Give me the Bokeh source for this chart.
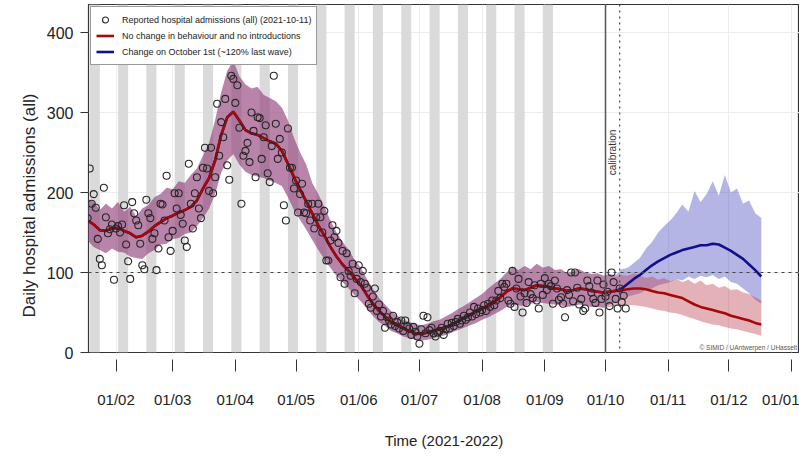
from math import pi
from bokeh.plotting import figure
from bokeh.models import FixedTicker, Span, Legend, LegendItem, Title
from bokeh.core.properties import value
from bokeh.embed import file_html
from bokeh.resources import INLINE

# ---------------- data (x = days since 2021-02-01) ----------------
month_tick_day = [0, 28, 59, 89, 120, 150, 181, 212, 242, 273, 303, 334]
month_tick_label = ["01/02", "01/03", "01/04", "01/05", "01/06", "01/07",
                    "01/08", "01/09", "01/10", "01/11", "01/12", "01/01"]
y_tick_values = [0, 100, 200, 300, 400]

# reported daily hospital admissions, one value per day from day -14 (18 Jan)
obs_start_day = -14
obs_admissions = [
    168, 230, 186, 198, 181, 142, 117, 109, 206, 169,
    149, 154, 160, 91, 155, 158, 150, 160, 184, 135,
    114, 92, 188, 174, 165, 159, 136, 109, 104, 191,
    174, 168, 142, 149, 103, 130, 186, 185, 165, 221,
    144, 127, 152, 199, 180, 199, 172, 161, 140, 132,
    236, 186, 155, 199, 219, 180, 168, 231, 256, 230,
    202, 256, 199, 219, 311, 246, 288, 269, 317, 234,
    216, 346, 342, 312, 334, 281, 186, 246, 252, 262,
    238, 300, 277, 219, 294, 293, 242, 269, 284, 224,
    213, 258, 346, 286, 242, 267, 250, 184, 165, 280,
    231, 231, 205, 215, 175, 198, 211, 175, 174, 186,
    165, 186, 155, 169, 186, 169, 150, 177, 115, 115,
    140, 159, 144, 152, 137, 94, 127, 86, 124, 102,
    96, 111, 74, 92, 109, 88, 102, 86, 81, 61,
    56, 70, 80, 52, 60, 45, 52, 31, 44, 40,
    35, 46, 33, 38, 30, 40, 27, 40, 33, 30,
    22, 32, 26, 20, 11, 29, 46, 24, 44, 28,
    31, 24, 20, 25, 27, 31, 22, 29, 36, 30,
    37, 33, 38, 42, 36, 40, 46, 41, 44, 50,
    45, 57, 48, 55, 50, 53, 59, 52, 61, 57,
    65, 59, 65, 77, 68, 86, 82, 86, 65, 61,
    102, 57, 80, 92, 70, 50, 74, 62, 88, 73,
    68, 84, 65, 55, 86, 72, 93, 78, 86, 83,
    61, 90, 80, 66, 69, 61, 44, 78, 72, 100,
    64, 100, 81, 60, 67, 52, 55, 90, 83, 75,
    67, 62, 90, 50, 67, 85, 70, 76, 58, 100,
    88, 67, 55, 80, 63, 71, 55,
]

# model: scenario "no change" (red), every 3 days from day -14
model_start_day = -14
model_step = 3
red_median = [
    165, 160, 153, 152, 155, 156, 152, 149, 144, 146,
    151, 158, 163, 168, 171, 175, 178, 182, 190, 205,
    218, 240, 272, 294, 301, 290, 278, 274, 272, 268,
    264, 261, 252, 236, 219, 204, 189, 174, 159, 146,
    132, 120, 110, 102, 93, 84, 72, 61, 52, 45,
    38, 34, 30, 27, 24, 23, 25, 27, 29, 31,
    35, 39, 43, 47, 51, 55, 59, 64, 69, 76,
    80, 79, 78, 81, 84, 83, 82, 80, 79, 77,
    78, 80, 79, 77, 76, 75, 76, 77, 78, 79,
    80, 80, 79, 77, 75, 74, 72, 70, 68, 64,
    60, 57, 55, 53, 51, 49, 46, 44, 42, 40,
    37, 35,
]
red_upper = [
    192, 188, 178, 186, 180, 188, 176, 182, 170, 180,
    184, 194, 198, 206, 204, 214, 212, 222, 230, 246,
    262, 290, 325, 352, 365, 345, 335, 330, 332, 322,
    318, 314, 306, 290, 268, 250, 235, 212, 198, 182,
    165, 150, 138, 128, 116, 106, 92, 80, 68, 60,
    52, 46, 41, 38, 35, 34, 36, 39, 41, 45,
    49, 54, 58, 63, 68, 73, 80, 86, 92, 100,
    106, 103, 108, 104, 111, 106, 108, 103, 104, 99,
    102, 104, 100, 98, 99, 96, 98, 95, 97, 96,
    99, 96, 93, 95, 91, 93, 89, 92, 88, 91,
    86, 90, 84, 86, 81, 83, 78, 79, 75, 73,
    69, 65,
]
red_lower = [
    140, 132, 128, 124, 130, 126, 125, 120, 118, 117,
    124, 128, 135, 136, 142, 143, 148, 150, 158, 168,
    180, 198, 225, 240, 248, 235, 226, 222, 220, 218,
    215, 212, 208, 194, 178, 166, 154, 141, 128, 117,
    106, 96, 88, 80, 72, 64, 55, 46, 38, 33,
    27, 24, 20, 18, 16, 15, 16, 18, 20, 22,
    25, 28, 31, 34, 37, 41, 44, 48, 52, 57,
    60, 59, 58, 61, 63, 62, 61, 60, 59, 57,
    58, 60, 59, 57, 57, 56, 57, 58, 58, 59,
    59, 58, 57, 55, 53, 52, 50, 49, 47, 44,
    42, 39, 37, 35, 34, 32, 30, 29, 27, 25,
    23, 21,
]

# scenario "change on October 1st" (blue) diverges from day 241 (same step)
blue_start_day = 241
blue_median = [75, 76, 77, 80, 86, 92, 97, 103, 109, 114, 118, 122, 125, 128,
               130, 132, 134, 134, 136, 135, 131, 127, 122, 117, 110, 103, 95]
blue_upper = [96, 98, 97, 104, 106, 112, 118, 130, 138, 150, 158, 165, 174, 185,
              176, 202, 188, 198, 214, 196, 222, 200, 205, 186, 190, 174, 168]
blue_lower = [56, 60, 63, 66, 70, 72, 74, 78, 80, 84, 86, 88, 92, 90,
              95, 92, 96, 94, 97, 92, 95, 88, 86, 80, 74, 66, 61]

# grey periods (start day, 5 days long)
band_start_day = [-13, 1, 15, 29, 43, 57, 71, 85, 99, 113, 127, 141, 155, 169, 183, 197, 211]
band_length = 5

switch_day = 242        # 1 October
calibration_day = 249   # end of calibration

legend_labels = ["Reported hospital admissions (all) (2021-10-11)",
                 "No change in behaviour and no introductions",
                 "Change on October 1st (~120% last wave)"]

# ---------------- derived ----------------
obs_day = [obs_start_day + i for i in range(len(obs_admissions))]
n_model = min(len(red_median), len(red_upper), len(red_lower))
model_day = [model_start_day + model_step * i for i in range(n_model)]
k0 = (blue_start_day - model_start_day) // model_step
nb = min(len(blue_median), len(blue_upper), len(blue_lower))
blue_day = model_day[:k0] + [blue_start_day + model_step * i for i in range(nb)]
blue_med_full = red_median[:k0] + blue_median[:nb]
blue_up_full = red_upper[:k0] + blue_upper[:nb]
blue_lo_full = red_lower[:k0] + blue_lower[:nb]

FONT = "Liberation Sans"
X0, X1 = -13.6, 337.9
Y0, Y1 = 0, 435

p = figure(width=799, height=456, x_range=(X0, X1), y_range=(Y0, Y1),
           output_backend="svg", toolbar_location=None,
           min_border_left=88, min_border_right=0, min_border_top=4,
           min_border_bottom=104)
p.background_fill_color = "white"
p.border_fill_color = "white"
p.outline_line_color = "#333333"
p.outline_line_width = 1.2

# grid
p.xgrid.ticker = FixedTicker(ticks=month_tick_day)
p.ygrid.ticker = FixedTicker(ticks=y_tick_values)
p.grid.grid_line_color = "#EDEDED"
p.grid.grid_line_width = 1

# grey periods
p.quad(left=band_start_day, right=[s + band_length for s in band_start_day],
       bottom=Y0, top=Y1, fill_color="#DADADA", line_color=None)

# uncertainty bands
p.varea(x=blue_day[:len(blue_up_full)], y1=blue_lo_full, y2=blue_up_full,
        fill_color="#4646BE", fill_alpha=0.4)
p.varea(x=model_day, y1=red_lower[:n_model], y2=red_upper[:n_model],
        fill_color="#BE3C50", fill_alpha=0.4)

# reference lines
p.add_layout(Span(location=100, dimension="width", line_color="#444444",
                  line_width=1, line_dash="3 4"))
p.add_layout(Span(location=switch_day, dimension="height", line_color="#555555",
                  line_width=1.5))
p.add_layout(Span(location=calibration_day, dimension="height", line_color="#444444",
                  line_width=1.2, line_dash="2 4"))

# medians
r_blue = p.line(blue_day[:len(blue_med_full)], blue_med_full, line_color="#10108C", line_width=2.6)
r_red = p.line(model_day, red_median[:n_model], line_color="#A50808", line_width=2.6)

# observations
r_obs = p.scatter(obs_day, obs_admissions, marker="circle", size=7, fill_color=None,
                  line_color="#262626", line_width=1.1)

# texts
p.text(x=[calibration_day - 0.7], y=[250], text=["calibration"], angle=pi / 2,
       text_align="center", text_baseline="bottom", text_font_size="10px",
       text_color="#333333", text_font=value(FONT))
p.text(x=[X1 - 1.2], y=[1.5], text=["\u00a9 SIMID / UAntwerpen / UHasselt"],
       text_align="right", text_baseline="bottom", text_font_size="6.5px",
       text_color="#555555", text_font=value(FONT))

# axes
xa = p.xaxis[0]
xa.ticker = FixedTicker(ticks=month_tick_day)
xa.major_label_overrides = {d: l for d, l in zip(month_tick_day, month_tick_label)}
xa.axis_line_color = None
xa.major_tick_in = -7
xa.major_tick_out = 19
xa.major_tick_line_color = "#333333"
xa.minor_tick_line_color = None
xa.major_label_standoff = 19
xa.major_label_text_font = FONT
xa.major_label_text_font_size = "15px"
xa.major_label_text_color = "#222222"
xa.axis_label = "Time (2021-2022)"
xa.axis_label_text_font = FONT
xa.axis_label_text_font_size = "15px"
xa.axis_label_text_font_style = "normal"
xa.axis_label_text_color = "#222222"
xa.axis_label_standoff = 21

ya = p.yaxis[0]
ya.ticker = FixedTicker(ticks=y_tick_values)
ya.axis_line_color = None
ya.major_tick_in = 0
ya.major_tick_out = 8
ya.major_tick_line_color = "#333333"
ya.minor_tick_line_color = None
ya.major_label_standoff = 7
ya.major_label_text_font = FONT
ya.major_label_text_font_size = "16px"
ya.major_label_text_color = "#222222"

ytitle = Title(text="Daily hospital admissions (all)", align="left", offset=35,
               vertical_align="middle", standoff=8,
               text_font=FONT, text_font_size="17px", text_font_style="normal",
               text_color="#222222")
p.add_layout(ytitle, "left")

legend = Legend(items=[LegendItem(label=legend_labels[0], renderers=[r_obs]),
                       LegendItem(label=legend_labels[1], renderers=[r_red]),
                       LegendItem(label=legend_labels[2], renderers=[r_blue])],
                location="top_left")
legend.margin = 2
legend.padding = 5
legend.spacing = 1
legend.label_height = 15
legend.glyph_height = 15
legend.glyph_width = 18
legend.label_standoff = 8
legend.label_text_font = FONT
legend.label_text_font_size = "9px"
legend.label_text_color = "#222222"
legend.border_line_color = "#333333"
legend.border_line_width = 1
legend.background_fill_color = "white"
legend.background_fill_alpha = 1
p.add_layout(legend)

open("out.html", "w").write(file_html(p, INLINE))
